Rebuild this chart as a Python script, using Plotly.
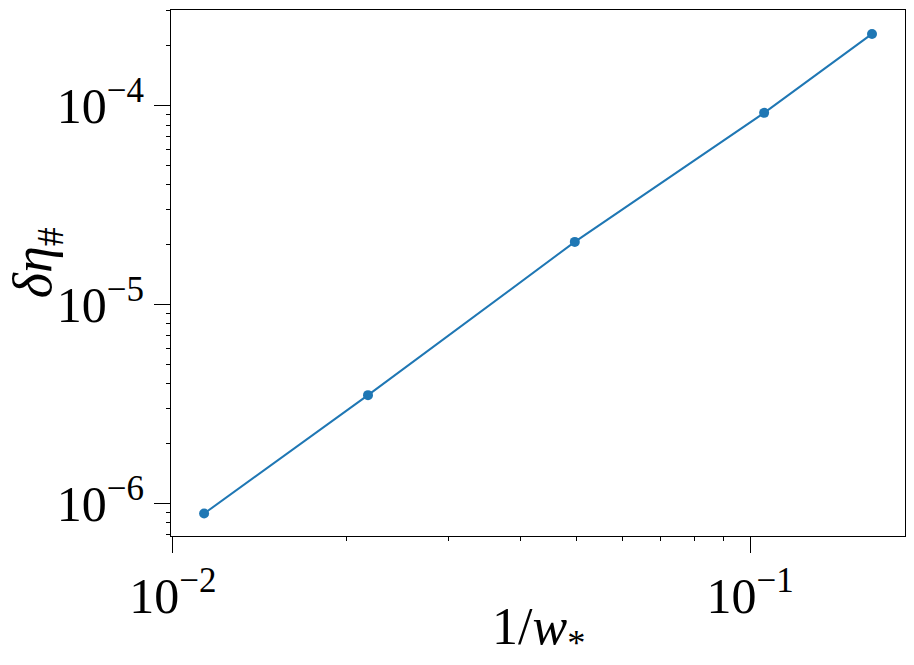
import plotly.graph_objects as go

# Data (log-log)
inv_w = [0.01133, 0.02178, 0.04968, 0.1057, 0.1625]
delta_eta = [8.91e-7, 3.51e-6, 2.07e-5, 9.22e-5, 2.30e-4]

x_tick_vals = [0.01, 0.1]
x_tick_text = ["10<sup>−2</sup>", "10<sup>−1</sup>"]
y_tick_vals = [1e-6, 1e-5, 1e-4]
y_tick_text = ["10<sup>−6</sup>", "10<sup>−5</sup>", "10<sup>−4</sup>"]
x_title = "1/<i>w</i><sub>*</sub>"
y_title = "<i>δη</i><sub>#</sub>"

x_minor = [m * 10 ** e for e in (-2, -1) for m in range(2, 10)]
y_minor = [m * 10 ** e for e in (-7, -6, -5, -4) for m in range(2, 10)]

FONT = "Liberation Serif"
BLUE = "#1f77b4"

fig = go.Figure()
fig.add_trace(go.Scatter(
    x=inv_w, y=delta_eta, mode="lines+markers",
    line=dict(color=BLUE, width=2),
    marker=dict(color=BLUE, size=10),
    showlegend=False,
))

axis_common = dict(
    type="log", automargin=False,
    showline=True, mirror=True, linecolor="black", linewidth=1.2,
    showgrid=False, zeroline=False,
    ticks="outside", ticklen=16, tickwidth=1.2, tickcolor="black",
    tickfont=dict(family=FONT, size=50, color="black"),
    tickmode="array",
)

fig.update_xaxes(
    **axis_common,
    range=[-2.0031, -0.732],
    tickvals=x_tick_vals, ticktext=x_tick_text,
    minor=dict(tickmode="array", tickvals=x_minor, ticks="outside",
               ticklen=4, tickwidth=0.9, tickcolor="black", showgrid=False),
)
fig.update_yaxes(
    **axis_common,
    range=[-6.163, -3.518],
    tickvals=y_tick_vals, ticktext=y_tick_text,
    minor=dict(tickmode="array", tickvals=y_minor, ticks="outside",
               ticklen=4, tickwidth=0.9, tickcolor="black", showgrid=False),
)

fig.update_layout(
    width=914, height=665,
    margin=dict(l=171, r=9, t=10, b=129),
    paper_bgcolor="white", plot_bgcolor="white",
    annotations=[
        dict(text=x_title, xref="paper", yref="paper", x=0.5, y=-0.115,
             xanchor="center", yanchor="top", showarrow=False,
             font=dict(family=FONT, size=52, color="black")),
        dict(text=y_title, xref="paper", yref="paper", x=-0.183, y=0.52,
             xanchor="center", yanchor="middle", showarrow=False, textangle=-90,
             font=dict(family=FONT, size=54, color="black")),
    ],
)

fig.write_html("out.html", config={"displayModeBar": False},
               post_script="document.body.style.margin='0';")
